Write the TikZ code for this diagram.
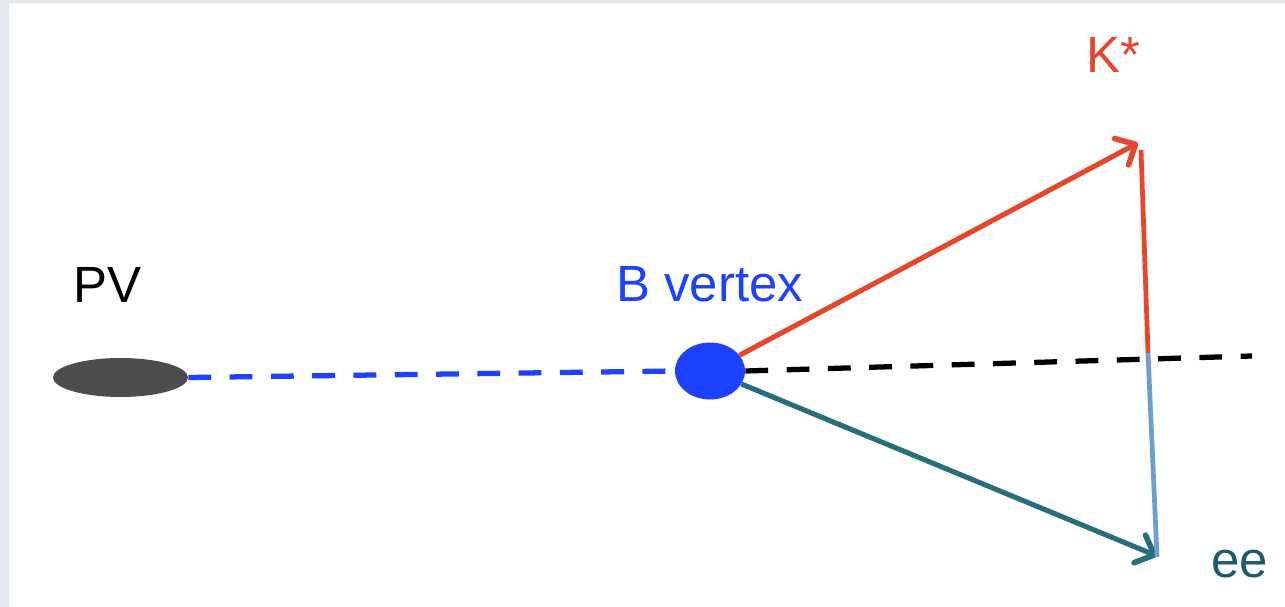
\documentclass[tikz,border=0pt]{standalone}
\usepackage{fontspec}
\setmainfont{Liberation Sans}
\usetikzlibrary{shapes.geometric,arrows.meta}
\definecolor{bgrey}{HTML}{E4E7EB}
\definecolor{pvgrey}{HTML}{4D4D4D}
\definecolor{vblue}{HTML}{1E40FF}
\definecolor{kred}{HTML}{E8462C}
\definecolor{eteal}{HTML}{266E7E}
\definecolor{eetext}{HTML}{1E5B6B}
\definecolor{lblue}{HTML}{6A9FD0}
\tikzset{
  lbl/.style={font=\fontsize{29}{34}\selectfont, inner sep=0pt, anchor=base west},
  dashline/.style={line width=3pt, dash pattern=on 13pt off 10.5pt},
  trk/.style={line width=2.9pt, -{Straight Barb[length=9pt,width=17pt,line width=3.2pt,round]}},
  seg/.style={line width=2.7pt}
}
\begin{document}
\begin{tikzpicture}[x=0.02cm,y=-0.02cm]
\useasboundingbox (0,0) rectangle (1285,607);
\fill[bgrey] (0,0) rectangle (1285,607);
\fill[white] (9,3) rectangle (1285,607);
% vertices
\node[ellipse, fill=pvgrey, minimum width=2.7cm, minimum height=0.78cm, inner sep=0pt] (pv) at (120.5,377.5) {};
\node[ellipse, fill=vblue, minimum width=1.4cm, minimum height=1.14cm, inner sep=0pt] (bv) at (710,371) {};
% coordinates
\coordinate (ktip) at (1138,143);
\coordinate (etip) at (1157,556);
\coordinate (ktop) at (1141,150);
\coordinate (cross) at (1148,353);
\coordinate (ebot) at (1157,557);
\coordinate (dashend) at (1252,356);
% lines
\draw[dashline, vblue] (pv.east) -- (bv.west);
\draw[dashline, black] (bv.east) -- (dashend);
\draw[trk, kred] (bv) -- (ktip);
\draw[trk, eteal] (bv) -- (etip);
\draw[seg, kred] (ktop) -- (cross);
\draw[seg, lblue] (cross) -- (ebot);
% labels
\node[lbl, black] (pvl) at (73,303) {PV};
\node[lbl, vblue] (bvl) at (616,302) {B vertex};
\node[lbl, kred] (kl) at (1086,73) {K*};
\node[lbl, eetext] (eel) at (1211,578) {ee};
\end{tikzpicture}
\end{document}
